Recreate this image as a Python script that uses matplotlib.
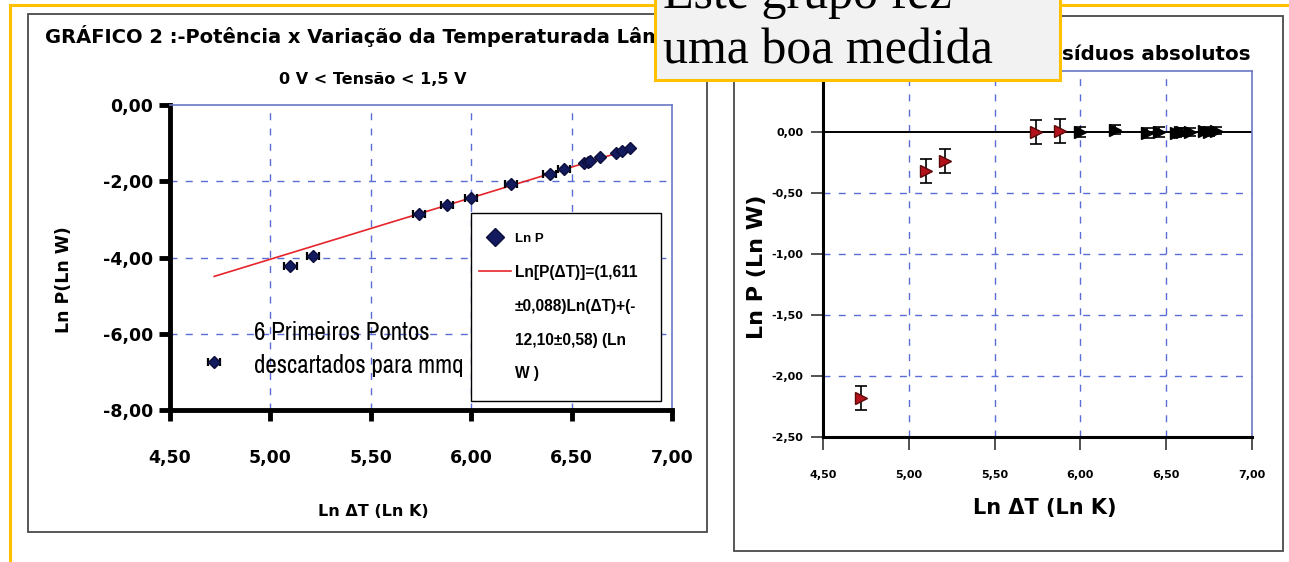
import matplotlib
matplotlib.use("Agg")
import matplotlib.pyplot as plt
from matplotlib.patches import Rectangle
from matplotlib.lines import Line2D
from matplotlib.ticker import FixedLocator, FuncFormatter
from matplotlib import font_manager
from matplotlib.font_manager import FontProperties

# Ln ΔT (Ln K) and Ln P (Ln W) for every measurement
ln_dt = [4.72, 5.10, 5.21, 5.74, 5.88, 6.00, 6.20, 6.39, 6.46,
         6.56, 6.58, 6.59, 6.64, 6.72, 6.75, 6.79]
ln_p = [-6.73, -4.22, -3.96, -2.85, -2.61, -2.43, -2.08, -1.80, -1.69,
        -1.53, -1.50, -1.48, -1.37, -1.26, -1.21, -1.13]
ln_dt_err = [0.03, 0.03, 0.03, 0.03, 0.03, 0.03, 0.03, 0.03, 0.03,
             0.0, 0.0, 0.0, 0.0, 0.0, 0.0, 0.0]
n_with_xerr = 9

# least-squares line quoted in the legend
fit_slope = 1.611
fit_intercept = -12.10

# absolute residuals of Ln P around the fitted line
residuals = [-2.18, -0.32, -0.24, 0.00, 0.01, 0.00, 0.02, -0.01, 0.00,
             -0.01, 0.00, 0.00, 0.00, 0.01, 0.00, 0.01]
residual_err = [0.10, 0.10, 0.10, 0.10, 0.10, 0.04, 0.04, 0.04, 0.04,
                0.03, 0.03, 0.03, 0.03, 0.03, 0.03, 0.03]
n_outliers = 5

x_ticks = [4.5, 5.0, 5.5, 6.0, 6.5, 7.0]
y_ticks_main = [0.0, -2.0, -4.0, -6.0, -8.0]
y_ticks_resid = [0.5, 0.0, -0.5, -1.0, -1.5, -2.0, -2.5]

legend_labels = ["Ln P",
                 "Ln[P(ΔT)]=(1,611\n±0,088)Ln(ΔT)+(-\n12,10±0,58) (Ln\nW )"]

W, H = 1289, 562
fig = plt.figure(figsize=(W / 100, H / 100), dpi=100)
fig.patch.set_facecolor("white")


def px_rect(x0, y0, x1, y1):
    """Axes rectangle from pixel corners (origin top-left)."""
    return [x0 / W, 1 - y1 / H, (x1 - x0) / W, (y1 - y0) / H]


def pixel_axes(x0, y0, x1, y1, z):
    """Invisible axes whose data units are pixels, y pointing down."""
    a = fig.add_axes(px_rect(x0, y0, x1, y1), zorder=z)
    a.set_xlim(x0, x1)
    a.set_ylim(y1, y0)
    a.axis("off")
    a.patch.set_alpha(0)
    return a


def narrow_font():
    """A condensed sans-serif face if one is installed."""
    order = {"condensed": 0, "semi-condensed": 1, "extra-condensed": 2}
    found = []
    for f in font_manager.fontManager.ttflist:
        if (f.stretch in order and f.style == "normal"
                and f.weight in (400, "normal", "regular")
                and "CJK" not in f.name and "Mono" not in f.name
                and "Serif" not in f.name):
            found.append((order[f.stretch], f.name, f.fname))
    if found:
        found.sort()
        return FontProperties(fname=found[0][2], size=18)
    return FontProperties(family=["Liberation Sans", "DejaVu Sans"], size=15)


comma = FuncFormatter(lambda v, _: f"{v:.2f}".replace(".", ","))
GRID = "#5a6cd6"
FRAME_BLUE = "#6a78c4"
WIDE = ["DejaVu Sans"]
ARIAL = ["Liberation Sans", "DejaVu Sans"]

# ---- slide background: panels, yellow rule ----
bg = pixel_axes(0, 0, W, H, 0)
bg.add_patch(Rectangle((28, 14), 679, 518, facecolor="white",
                       edgecolor="#4a4a4a", lw=1.3))
bg.add_patch(Rectangle((734, 16), 549, 535, facecolor="white",
                       edgecolor="#4a4a4a", lw=1.3))
bg.add_line(Line2D([10, 10], [5, H], color="#ffc000", lw=2.2))
bg.add_line(Line2D([10, W], [5, 5], color="#ffc000", lw=2.2))

bg.text(45, 36, "GRÁFICO 2 :-Potência x Variação da Temperaturada Lâmpada",
        family=WIDE, weight="bold", fontsize=14, ha="left", va="center")
bg.text(373, 80, "0 V < Tensão < 1,5 V", family=WIDE, weight="bold",
        fontsize=11.5, ha="center", va="center")
bg.text(373, 512, "Ln ΔT (Ln K)", family=WIDE, weight="bold",
        fontsize=11.5, ha="center", va="center")
bg.text(64, 280, "Ln P(Ln W)", family=WIDE, weight="bold",
        fontsize=12.5, ha="center", va="center", rotation=90)

bg.text(1251, 55, "Resíduos absolutos", family=WIDE, weight="bold",
        fontsize=14.3, ha="right", va="center")
bg.text(1045, 508, "Ln ΔT (Ln K)", family=WIDE, weight="bold",
        fontsize=15, ha="center", va="center")
bg.text(757, 267, "Ln P (Ln W)", family=WIDE, weight="bold",
        fontsize=16, ha="center", va="center", rotation=90)

# ---- left chart: Ln P against Ln ΔT with fitted line ----
axL = fig.add_axes(px_rect(170, 105, 672, 410), zorder=1)
axL.set_xlim(x_ticks[0], x_ticks[-1])
axL.set_ylim(y_ticks_main[-1], y_ticks_main[0])
axL.xaxis.set_major_locator(FixedLocator(x_ticks))
axL.yaxis.set_major_locator(FixedLocator(y_ticks_main))
axL.xaxis.set_major_formatter(comma)
axL.yaxis.set_major_formatter(comma)
for x in x_ticks[1:-1]:
    axL.axvline(x, color=GRID, lw=1, ls=(0, (5, 6)), zorder=0.5)
for y in y_ticks_main[1:-1]:
    axL.axhline(y, color=GRID, lw=1, ls=(0, (5, 6)), zorder=0.5)
for side in ("left", "bottom"):
    axL.spines[side].set_linewidth(3.5)
    axL.spines[side].set_color("black")
for side in ("top", "right"):
    axL.spines[side].set_linewidth(1.2)
    axL.spines[side].set_color(FRAME_BLUE)
axL.tick_params(direction="out", length=8, width=3.5, color="black",
                labelsize=12.5)
axL.tick_params(axis="y", pad=4)
axL.tick_params(axis="x", pad=20)
for lab in axL.get_xticklabels() + axL.get_yticklabels():
    lab.set_fontweight("bold")
    lab.set_family(WIDE)

fit_x = [min(ln_dt), max(ln_dt)]
fit_y = [fit_slope * v + fit_intercept for v in fit_x]
fit_line, = axL.plot(fit_x, fit_y, color="#e6242b", lw=1.2, zorder=2)
axL.errorbar(ln_dt[:n_with_xerr], ln_p[:n_with_xerr],
             xerr=ln_dt_err[:n_with_xerr], fmt="none", ecolor="black",
             elinewidth=1.6, capsize=3, capthick=1.6, zorder=3)
points, = axL.plot(ln_dt, ln_p, "D", color="#141a5e", mec="#0c0f3c",
                   ms=6, zorder=4)

axL.text(4.92, -6.4, "6 Primeiros Pontos\ndescartados para mmq",
         fontproperties=narrow_font(), ha="left", va="center",
         linespacing=1.5, zorder=5)

# legend panel drawn with the same styles as the plotted artists
lg = pixel_axes(465, 207, 666, 406, 2)
lg.add_patch(Rectangle((470.5, 212.5), 190, 188, facecolor="white",
                       edgecolor="black", lw=1.0))
lg.plot([495], [237], marker=points.get_marker(), color=points.get_color(),
        mec=points.get_markeredgecolor(), ms=9, ls="none")
lg.text(515, 239, legend_labels[0], family=ARIAL, weight="bold",
        fontsize=9.5, ha="left", va="center")
lg.plot([479, 511], [271, 271], color=fit_line.get_color(),
        lw=fit_line.get_linewidth())
for i, row in enumerate(legend_labels[1].split("\n")):
    lg.text(515, 273 + 33.5 * i, row, family=ARIAL, weight="bold",
            fontsize=11.2, ha="left", va="center")

# ---- right chart: residuals ----
axR = fig.add_axes(px_rect(823, 71, 1252, 437), zorder=1)
axR.set_xlim(x_ticks[0], x_ticks[-1])
axR.set_ylim(y_ticks_resid[-1], y_ticks_resid[0])
axR.xaxis.set_major_locator(FixedLocator(x_ticks))
axR.yaxis.set_major_locator(FixedLocator(y_ticks_resid))
axR.xaxis.set_major_formatter(comma)
axR.yaxis.set_major_formatter(comma)
for x in x_ticks[1:-1]:
    axR.axvline(x, color=GRID, lw=1, ls=(0, (5, 6)), zorder=0.5)
for y in y_ticks_resid[2:-1]:
    axR.axhline(y, color=GRID, lw=1, ls=(0, (5, 6)), zorder=0.5)
axR.axhline(0, color="black", lw=1.4, zorder=1)
for side in ("left", "bottom"):
    axR.spines[side].set_linewidth(2.2)
    axR.spines[side].set_color("black")
for side in ("top", "right"):
    axR.spines[side].set_linewidth(1.2)
    axR.spines[side].set_color(FRAME_BLUE)
axR.tick_params(direction="out", length=9, width=1.2, color="#333333",
                labelsize=8)
axR.tick_params(axis="y", pad=5)
axR.tick_params(axis="x", pad=15)
for lab in axR.get_xticklabels() + axR.get_yticklabels():
    lab.set_fontweight("bold")
    lab.set_family(WIDE)

axR.errorbar(ln_dt[n_outliers:], residuals[n_outliers:],
             yerr=residual_err[n_outliers:], fmt=">", color="black",
             ms=8, ecolor="black", elinewidth=1.2, capsize=4, capthick=1.2,
             zorder=3)
axR.errorbar(ln_dt[:n_outliers], residuals[:n_outliers],
             yerr=residual_err[:n_outliers], fmt=">", color="#b3121b",
             mec="#5a0a0a", ms=8, ecolor="black", elinewidth=1.2,
             capsize=4.5, capthick=1.2, zorder=4)

# ---- note box on top ----
ov = pixel_axes(0, 0, W, H, 5)
ov.add_patch(Rectangle((655, -20), 405, 100, facecolor="#f2f2f2",
                       edgecolor="#ffc000", lw=2.2))
SERIF = ["Liberation Serif", "DejaVu Serif"]
ov.text(663, 8, "Este grupo fez", family=SERIF, fontsize=36,
        ha="left", va="baseline")
ov.text(663, 64, "uma boa medida", family=SERIF, fontsize=36,
        ha="left", va="baseline")

fig.savefig("out.png", dpi=100, facecolor="white")
